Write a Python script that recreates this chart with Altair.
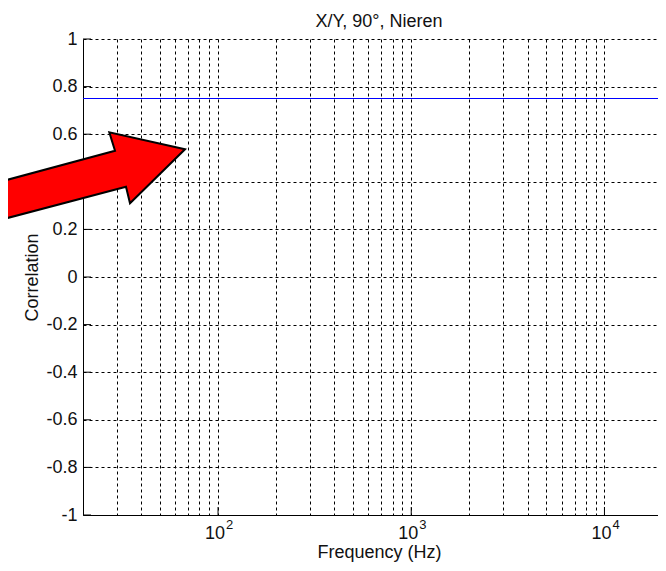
import altair as alt
import pandas as pd

# ---- data ----
FREQ = [20, 18930]            # blue correlation line, Hz (runs to the right edge)
CORR = [0.75, 0.75]
X_DOMAIN = [20, 18930]
Y_DOMAIN = [-1, 1]
Y_TICKS = [-1, -0.8, -0.6, -0.4, -0.2, 0, 0.2, 0.4, 0.6, 0.8, 1]
X_GRID = [30, 40, 50, 60, 70, 80, 90,
          100, 200, 300, 400, 500, 600, 700, 800, 900,
          1000, 2000, 3000, 4000, 5000, 6000, 7000, 8000, 9000,
          10000]
MAJOR_FREQ = [100, 1000, 10000]
MAJOR_EXP = ["2", "3", "4"]
TITLE = "X/Y, 90°, Nieren"
X_TITLE = "Frequency (Hz)"
Y_TITLE = "Correlation"

# annotation arrow outline (pixels, relative to plot origin)
ARROW_PATH = ("M102,110.3 L26.3,93.3 L32,111.7 L-103,148.2 "
              "L-103,186.3 L43,147.7 L47,164.3 Z")

FONT = "Liberation Sans"
TXT = "#111111"
W, H = 575, 476

line_df = pd.DataFrame({"freq": FREQ, "corr": CORR})
major_df = pd.DataFrame({"freq": MAJOR_FREQ, "exp": MAJOR_EXP})
ytick_df = pd.DataFrame({"corr": Y_TICKS})
title_df = pd.DataFrame({"t": [TITLE]})

xscale = alt.Scale(type="log", domain=X_DOMAIN, nice=False)
yscale = alt.Scale(domain=Y_DOMAIN, nice=False, zero=False)

line = alt.Chart(line_df).mark_line(color="#0000ff", strokeWidth=1).encode(
    x=alt.X("freq:Q", scale=xscale,
            axis=alt.Axis(values=X_GRID, labels=False, ticks=False, tickSize=0,
                          grid=True, title=X_TITLE, titleX=296, titleY=42,
                          titleBaseline="alphabetic", titleAnchor="middle")),
    y=alt.Y("corr:Q", scale=yscale,
            axis=alt.Axis(values=Y_TICKS, ticks=False, tickSize=0, labelPadding=6,
                          labelExpr="toString(datum.value)", grid=True,
                          title=Y_TITLE, titleX=-46, titleY=238, titleAngle=270,
                          titleBaseline="alphabetic", titleAnchor="middle")),
)

xticks = alt.Chart(major_df).mark_rule(color="black", strokeWidth=1).encode(
    x=alt.X("freq:Q", scale=xscale),
    y=alt.value(H), y2=alt.value(H - 8),
)
yticks = alt.Chart(ytick_df).mark_rule(color="black", strokeWidth=1).encode(
    y=alt.Y("corr:Q", scale=yscale),
    x=alt.value(0), x2=alt.value(8),
)

base_lbl = alt.Chart(major_df).mark_text(
    text="10", align="right", dx=7, baseline="alphabetic",
    fontSize=18, font=FONT, color=TXT
).encode(x=alt.X("freq:Q", scale=xscale), y=alt.value(H + 24))

exp_lbl = alt.Chart(major_df).mark_text(
    align="left", dx=8, baseline="alphabetic",
    fontSize=13, font=FONT, color=TXT
).encode(x=alt.X("freq:Q", scale=xscale), y=alt.value(H + 14), text="exp:N")

title = alt.Chart(title_df).mark_text(
    align="center", baseline="alphabetic", fontSize=18, font=FONT, color=TXT
).encode(x=alt.value(296), y=alt.value(-12), text="t:N")

arrow = alt.Chart(pd.DataFrame({"a": [0]})).mark_point(
    shape=ARROW_PATH, size=4, filled=True, fill="#ff0000", stroke="black",
    strokeWidth=2, opacity=1, fillOpacity=1, strokeOpacity=1
).encode(x=alt.value(0), y=alt.value(0))

chart = alt.layer(line, xticks, yticks, base_lbl, exp_lbl, title, arrow).properties(
    width=W, height=H,
    background="white",
    autosize=alt.AutoSizeParams(type="none"),
    padding={"left": 75, "top": 31, "right": 0, "bottom": 47},
).configure_view(strokeWidth=0).configure_axis(
    gridColor="#000000", gridDash=[3, 3], gridWidth=1, gridOpacity=1,
    domainColor="#000000", domainWidth=1,
    labelFont=FONT, labelFontSize=18, labelColor=TXT,
    titleFont=FONT, titleFontSize=18, titleFontWeight="normal", titleColor=TXT,
)

chart.save("out.html", embed_options={"renderer": "svg", "actions": False})
